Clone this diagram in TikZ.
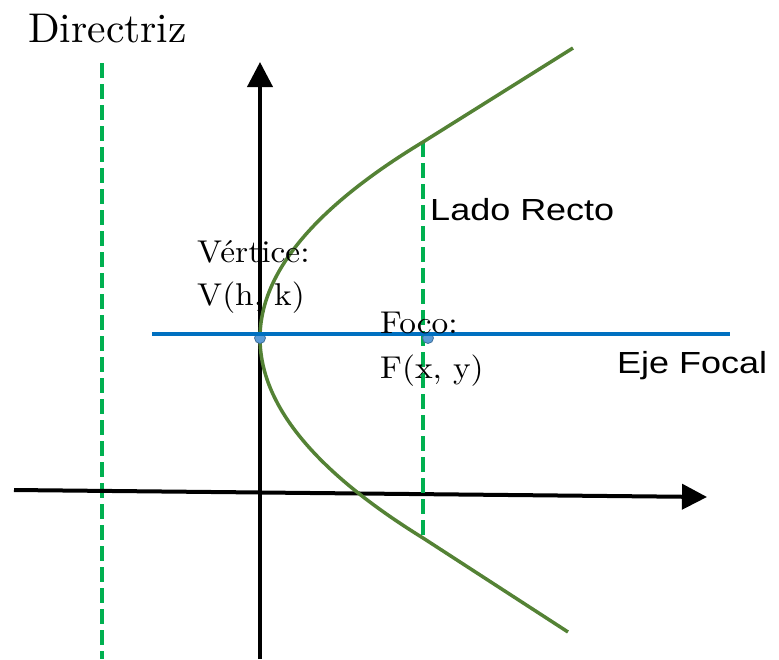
\documentclass[tikz,border=0pt]{standalone}
\usepackage{fontspec}
\newfontfamily\sansf{Liberation Sans}
\newfontfamily\seriff{lmroman10-regular.otf}
\usetikzlibrary{arrows.meta}
\definecolor{dashgreen}{HTML}{00B050}
\definecolor{curvegreen}{HTML}{548235}
\definecolor{focalblue}{HTML}{0070C0}
\definecolor{dotfill}{HTML}{5B9BD5}
\definecolor{dotline}{HTML}{41719C}
\begin{document}
\begin{tikzpicture}[x=1pt,y=-1pt,
  axisline/.style={line width=4pt,-{Triangle[length=25pt,width=25pt]}},
  dashline/.style={dashgreen,line width=4.5pt,dash pattern=on 15pt off 6pt},
  curveline/.style={curvegreen,line width=3.5pt,line join=round},
  focalline/.style={focalblue,line width=4pt},
  dotmark/.style={circle,fill=dotfill,draw=dotline,line width=0.8pt,minimum size=11pt,inner sep=0pt},
  seriftext/.style={anchor=base west,inner sep=0pt,font=\seriff\fontsize{31.5}{38}\selectfont,xscale=1.06},
  sanstext/.style={anchor=base west,inner sep=0pt,font=\sansf\fontsize{30.5}{36}\selectfont,xscale=1.18}]
\useasboundingbox (0,0) rectangle (779,659);
% coordinates
\coordinate (dirtop) at (102,63);
\coordinate (dirbot) at (102,659);
\coordinate (yaxbot) at (260,659);
\coordinate (yaxtop) at (260,62);
\coordinate (xaxleft) at (14,490);
\coordinate (xaxright) at (707,497);
\coordinate (T) at (573,48);
\coordinate (LT) at (423,142);
\coordinate (V) at (260,338);
\coordinate (LB) at (423,538);
\coordinate (B) at (568,632);
\coordinate (focL) at (152,334);
\coordinate (focR) at (730,334);
% directrix
\draw[dashline] (dirtop) -- (dirbot);
% axes
\draw[axisline] (yaxbot) -- (yaxtop);
\draw[axisline] (xaxleft) -- (xaxright);
% latus rectum
\draw[dashline] (LT) -- (LB);
% parabola
\draw[curveline] (T) -- (LT) .. controls (315,207.3) and (260,272.7) .. (V)
  .. controls (260,404.7) and (315,471.3) .. (LB) -- (B);
% points
\node[dotmark] (vdot) at (260,338) {};
\node[dotmark] (fdot) at (428,338) {};
% focal axis
\draw[focalline] (focL) -- (focR);
% texts
\node[anchor=base west,inner sep=0pt,font=\seriff\fontsize{41.5}{48}\selectfont] (dir) at (28,42) {Directriz};
\node[seriftext] (vert1) at (197,262) {Vértice:};
\node[seriftext] (vert2) at (197,305) {V(h, k)};
\node[seriftext] (foco1) at (380,333) {Foco:};
\node[seriftext] (foco2) at (380,378) {F(x, y)};
\node[sanstext] (lado) at (430,220) {Lado Recto};
\node[sanstext] (eje) at (617,373) {Eje Focal};
\end{tikzpicture}
\end{document}
